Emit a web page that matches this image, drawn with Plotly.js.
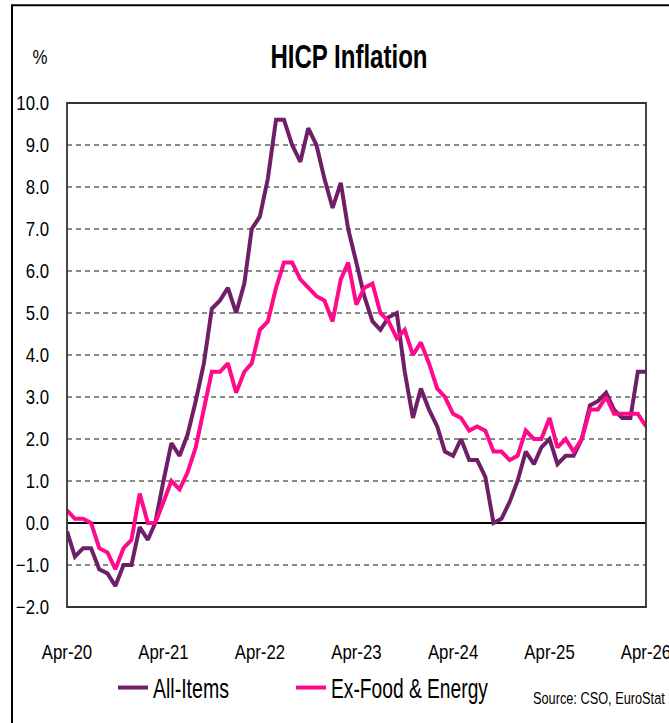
<!DOCTYPE html>
<html>
<head>
<meta charset="utf-8">
<script src="https://cdn.plot.ly/plotly-3.0.1.min.js"></script>
<style>
  html, body { margin: 0; padding: 0; background: #fff; }
  #chart { width: 669px; height: 723px; }
</style>
</head>
<body>
<div id="chart"></div>
<script>
// Monthly series, Apr-2020 .. Apr-2026
var startYear = 2020, startMonth = 4;
var allItems = [
  -0.2, -0.8, -0.6, -0.6, -1.1, -1.2, -1.5, -1.0, -1.0, -0.1, -0.4, 0.0,
  1.0, 1.9, 1.6, 2.1, 2.9, 3.8, 5.1, 5.3, 5.6, 5.0, 5.7, 7.0,
  7.3, 8.2, 9.6, 9.6, 9.0, 8.6, 9.4, 9.0, 8.2, 7.5, 8.1, 7.0,
  6.2, 5.4, 4.8, 4.6, 4.9, 5.0, 3.6, 2.5, 3.2, 2.7, 2.3, 1.7,
  1.6, 2.0, 1.5, 1.5, 1.1, 0.0, 0.1, 0.5, 1.0, 1.7, 1.4, 1.8,
  2.0, 1.4, 1.6, 1.6, 2.0, 2.8, 2.9, 3.1, 2.7, 2.5, 2.5, 3.6,
  3.6
];
var exFoodEnergy = [
  0.3, 0.1, 0.1, 0.0, -0.6, -0.7, -1.1, -0.6, -0.4, 0.7, 0.0, 0.0,
  0.5, 1.0, 0.8, 1.2, 1.8, 2.7, 3.6, 3.6, 3.8, 3.1, 3.6, 3.8,
  4.6, 4.8, 5.6, 6.2, 6.2, 5.8, 5.6, 5.4, 5.3, 4.8, 5.8, 6.2,
  5.2, 5.6, 5.7, 5.0, 4.8, 4.4, 4.6, 4.0, 4.3, 3.8, 3.2, 3.0,
  2.6, 2.5, 2.2, 2.3, 2.2, 1.7, 1.7, 1.5, 1.6, 2.2, 2.0, 2.0,
  2.5, 1.8, 2.0, 1.7, 2.0, 2.7, 2.7, 3.0, 2.6, 2.6, 2.6, 2.6,
  2.3
];
var tickDates = ['2020-04-01','2021-04-01','2022-04-01','2023-04-01','2024-04-01','2025-04-01','2026-04-01'];
var tickLabels = ['Apr-20','Apr-21','Apr-22','Apr-23','Apr-24','Apr-25','Apr-26'];
var seriesNames = ['All-Items', 'Ex-Food & Energy'];

// month categories
var months = [];
for (var i = 0; i < allItems.length; i++) {
  var m = startMonth - 1 + i;
  var y = startYear + Math.floor(m / 12);
  var mm = (m % 12) + 1;
  months.push(y + '-' + (mm < 10 ? '0' : '') + mm + '-01');
}

var FONT = "'Liberation Sans', Arial, sans-serif";
var PURPLE = '#6e1f68';
var PINK = '#ff0a8c';

var traces = [
  { x: months, y: allItems, name: seriesNames[0], type: 'scatter', mode: 'lines',
    line: { color: PURPLE, width: 4 } },
  { x: months, y: exFoodEnergy, name: seriesNames[1], type: 'scatter', mode: 'lines',
    line: { color: PINK, width: 4 } }
];

var L = 67, R = 646, T = 103, B = 608, W = 669, H = 723;
function px(x) { return (x - L) / (R - L); }
function py(y) { return (B - y) / (B - T); }

var layout = {
  width: W, height: H,
  margin: { l: L, r: W - R, t: T, b: H - B, pad: 0 },
  paper_bgcolor: '#ffffff', plot_bgcolor: '#ffffff',
  font: { family: FONT, color: '#000', size: 20 },
  title: { text: '<b>HICP Inflation</b>', font: { family: FONT, size: 34, color: '#000' },
           x: 349 / W, xanchor: 'center', y: 1 - 56 / H, yanchor: 'middle' },
  xaxis: {
    type: 'date', range: [tickDates[0], tickDates[tickDates.length - 1]],
    tickvals: tickDates, ticktext: tickLabels, tickmode: 'array',
    showgrid: false, zeroline: false, showline: false, ticks: '',
    tickfont: { family: FONT, size: 20, color: '#000' },
    ticklabelstandoff: 31, ticklabeloverflow: 'allow', automargin: false, fixedrange: true
  },
  yaxis: {
    range: [-2, 10], dtick: 1, tick0: 0, tickformat: '.1f',
    showgrid: true, gridcolor: '#8a8a8a', gridwidth: 1.5, griddash: '5px,4px',
    zeroline: true, zerolinecolor: '#000', zerolinewidth: 1.5,
    showline: false, ticks: '',
    tickfont: { family: FONT, size: 20, color: '#000' },
    ticklabelstandoff: 17, ticklabeloverflow: 'allow', automargin: false, fixedrange: true
  },
  showlegend: true,
  legend: {
    orientation: 'h', x: px(113), xanchor: 'left', y: py(688), yanchor: 'middle',
    font: { family: FONT, size: 27, color: '#000' },
    entrywidth: 133, entrywidthmode: 'pixels', itemwidth: 30,
    bgcolor: 'rgba(0,0,0,0)', borderwidth: 0
  },
  shapes: [
    { type: 'rect', xref: 'paper', yref: 'paper', x0: 0, x1: 1, y0: 0, y1: 1,
      line: { color: '#333', width: 1.8 }, fillcolor: 'rgba(0,0,0,0)', layer: 'above' },
    { type: 'rect', xref: 'paper', yref: 'paper', x0: px(12), x1: px(700), y0: py(760), y1: py(5),
      line: { color: '#000', width: 2 }, fillcolor: 'rgba(0,0,0,0)', layer: 'above' }
  ],
  annotations: [
    { text: '%', xref: 'paper', yref: 'paper', x: px(40), y: py(57), xanchor: 'center', yanchor: 'middle',
      showarrow: false, font: { family: FONT, size: 20, color: '#000' } },
    { text: 'Source: CSO, EuroStat', xref: 'paper', yref: 'paper', x: px(599), y: py(700),
      xanchor: 'center', yanchor: 'middle', showarrow: false,
      font: { family: FONT, size: 17, color: '#000' } }
  ]
};

// condensed look (reference uses a narrow face): scale glyphs horizontally about their anchor,
// the text stays real text
var targetWidths = { 'HICP Inflation': 157, 'All-Items': 76, 'Ex-Food & Energy': 157,
                     'Source: CSO, EuroStat': 132, '%': 15 };
function squeeze(gd) {
  gd.querySelectorAll('svg text').forEach(function (t) {
    var w = t.getComputedTextLength();
    if (!(w > 0)) return;
    var s = t.textContent;
    var target = targetWidths.hasOwnProperty(s) ? targetWidths[s] : w * 0.84;
    var k = target / w;
    var ax = parseFloat(t.getAttribute('x')) || 0;
    var tr = t.getAttribute('transform') || '';
    t.setAttribute('transform', tr + ' translate(' + ax + ',0) scale(' + k.toFixed(4) + ',1) translate(' + (-ax) + ',0)');
  });
  gd.querySelectorAll('.legend [clip-path]').forEach(function (e) {
    e.removeAttribute('clip-path');
  });
}

Plotly.newPlot('chart', traces, layout, { staticPlot: true, displayModeBar: false })
  .then(function (gd) { squeeze(gd); });
</script>
</body>
</html>
